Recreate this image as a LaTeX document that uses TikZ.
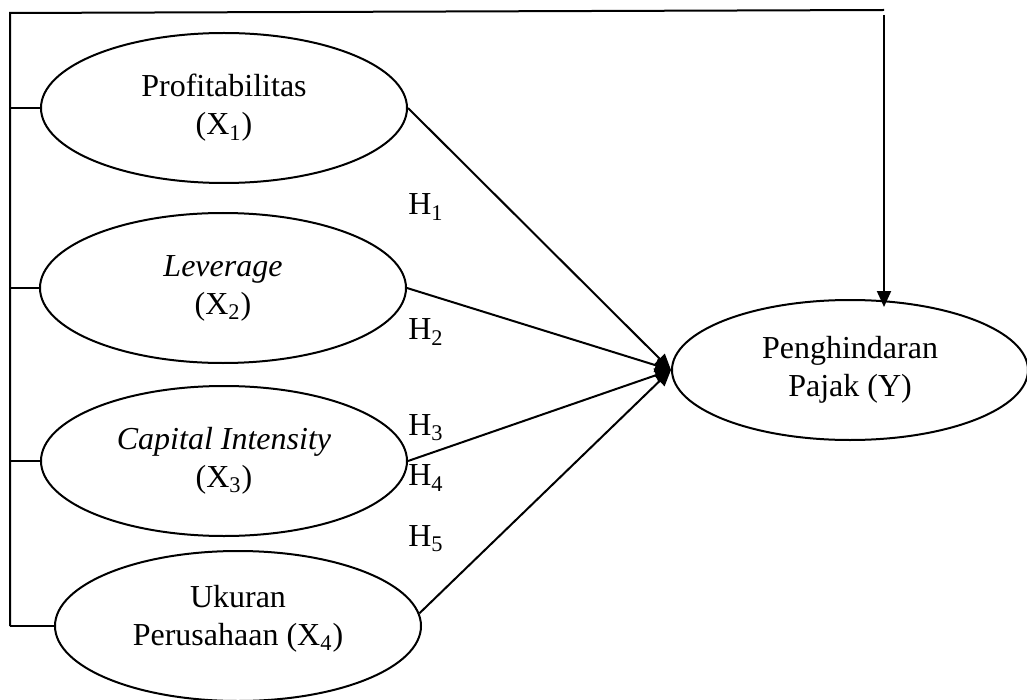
\documentclass[tikz,border=0pt]{standalone}
\usepackage{fontspec}
\setmainfont{Liberation Serif}
\usetikzlibrary{shapes.geometric,arrows.meta}
\begin{document}
\begin{tikzpicture}[x=0.5pt,y=-0.5pt,
  var/.style={draw,ellipse,line width=1pt,minimum width=183pt,minimum height=75pt,inner sep=0pt,align=center,font=\fontsize{16}{19}\selectfont},
  conn/.style={line width=1pt},
  arr/.style={line width=1pt,-{Triangle[length=8pt,width=7pt]}},
  hyp/.style={font=\fontsize{16}{19}\selectfont,inner sep=0pt}]
\useasboundingbox (0,0) rectangle (1027,700);
% variables
\node[var] (P) at (224,108) {Profitabilitas\\(X\textsubscript{1})};
\node[var] (L) at (223,288) {\textit{Leverage}\\(X\textsubscript{2})};
\node[var] (C) at (224,461) {\textit{Capital Intensity}\\(X\textsubscript{3})};
\node[var] (U) at (238,626) {Ukuran\\Perusahaan (X\textsubscript{4})\\[-8pt]};
\node[var,minimum width=178pt,minimum height=70pt] (Y) at (850,370) {Penghindaran\\Pajak (Y)};
% frame coordinates
\coordinate (tl) at (10,13);
\coordinate (tr) at (884,10);
\coordinate (tr2) at (884,15);
\coordinate (bl) at (10,626);
\draw[conn] (bl) -- (tl) -- (tr);
\draw[conn] (P.west -| tl) -- (P.west);
\draw[conn] (L.west -| tl) -- (L.west);
\draw[conn] (C.west -| tl) -- (C.west);
\draw[conn] (bl) -- (U.west);
\draw[arr,shorten >=-4pt] (tr2) -- (Y.north -| tr2);
% hypothesis arrows
\draw[arr] (P.east) -- (Y.west);
\draw[arr] (L.east) -- (Y.west);
\draw[arr] (C.east) -- (Y.west);
\draw[arr] (U.4) -- (Y.west);
% labels
\node[hyp] (h1) at (426,207) {H\textsubscript{1}};
\node[hyp] (h2) at (426,332) {H\textsubscript{2}};
\node[hyp] (h3) at (426,428) {H\textsubscript{3}};
\node[hyp] (h4) at (426,478) {H\textsubscript{4}};
\node[hyp] (h5) at (426,539) {H\textsubscript{5}};
\end{tikzpicture}
\end{document}
